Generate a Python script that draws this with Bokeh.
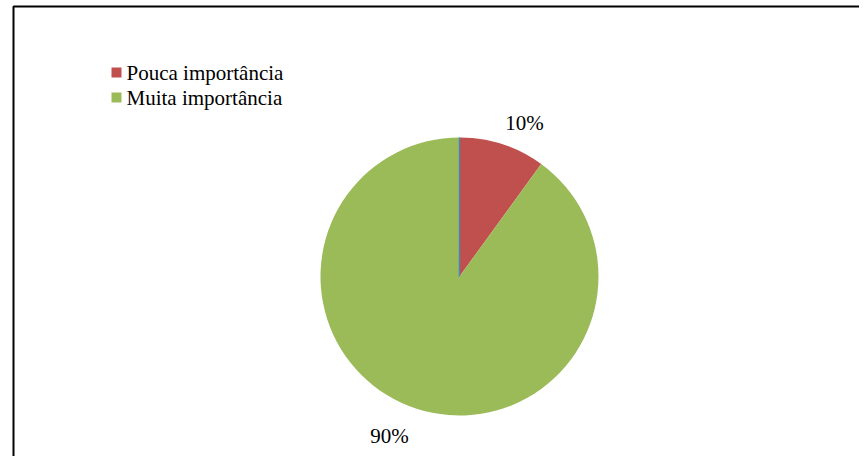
import math
from bokeh.plotting import figure
from bokeh.models import ColumnDataSource
from bokeh.core.properties import value
from bokeh.embed import file_html
from bokeh.resources import INLINE

categories = ["Pouca importância", "Muita importância"]
shares = [10, 90]
colors = ["#C0504D", "#9BBB59"]
zero_color = "#4F81BD"
label_texts = ["10%", "90%"]

W, H = 859, 456
p = figure(width=W, height=H, output_backend="svg", toolbar_location=None,
           x_range=(0, W), y_range=(0, H), min_border=0)
p.axis.visible = False
p.grid.visible = False
p.outline_line_color = None
p.background_fill_color = "white"
p.border_fill_color = "white"

# chart frame (extends beyond the window on right/bottom)
p.line(x=[13, 13, W + 5], y=[-10, H - 6, H - 6], line_color="black", line_width=2)

cx, cy, r = 459, 180, 139
total = sum(shares)
starts, ends, mids = [], [], []
cum = 0
for s in shares:
    a0 = math.pi / 2 - 2 * math.pi * cum / total
    cum += s
    a1 = math.pi / 2 - 2 * math.pi * cum / total
    starts.append(a0)
    ends.append(a1)
    mids.append((a0 + a1) / 2)

src = ColumnDataSource(dict(start=starts, end=ends, color=colors))
p.wedge(x=cx, y=cy, radius=r, start_angle="start", end_angle="end",
        direction="clock", fill_color="color", line_color=None, source=src)

# zero-valued slice boundary at the start angle
p.segment(x0=[cx], y0=[cy], x1=[cx + r * math.cos(starts[0])], y1=[cy + r * math.sin(starts[0])],
          line_color=zero_color, line_width=1.5)

# data labels
lr = [167, 174]
ang_off = [-0.086, -0.10]
lx = [cx + lr[i] * math.cos(mids[i] + ang_off[i]) for i in range(2)]
ly = [cy + lr[i] * math.sin(mids[i] + ang_off[i]) for i in range(2)]
p.text(x=lx, y=ly, text=label_texts, text_font=value("Liberation Serif"),
       text_font_size="21px", text_align="center", text_baseline="middle", text_color="black")

# legend
leg_y = [H - 72, H - 97]
p.rect(x=[116, 116], y=leg_y, width=10, height=10, fill_color=colors, line_color=None)
p.text(x=[126, 126], y=leg_y, text=categories, text_font=value("Liberation Serif"),
       text_font_size="21px", text_align="left", text_baseline="middle", text_color="black")

open("out.html", "w").write(file_html(p, INLINE))
